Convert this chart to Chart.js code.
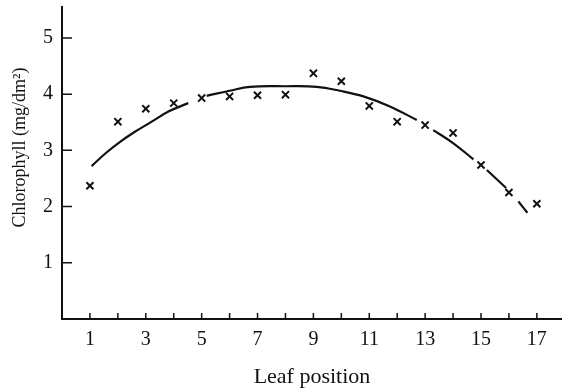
<!DOCTYPE html>
<html>
<head>
<meta charset="utf-8">
<script src="https://cdn.jsdelivr.net/npm/chart.js@4"></script>
<style>
  html, body { margin: 0; padding: 0; background: #fff; overflow: hidden; }
  #wrap { width: 562px; height: 391px; position: relative; }
  canvas { display: block; }
</style>
</head>
<body>
<div id="wrap"><canvas id="chlorophyll"></canvas></div>
<script>
// measured chlorophyll per leaf
const leafPositions = [1, 2, 3, 4, 5, 6, 7, 8, 9, 10, 11, 12, 13, 14, 15, 16, 17];
const chlorophyll = [2.37, 3.51, 3.74, 3.84, 3.93, 3.96, 3.98, 3.99, 4.37, 4.23, 3.79, 3.51, 3.45, 3.31, 2.74, 2.25, 2.05];

// fitted trend, drawn in pieces (null = break in the line)
const trendX = [1.06, 1.54, 2.02, 2.61, 3.21, 3.81, 4.52, 4.85, 5.18, 6.0, 6.73, 8.0, 9.12, 9.95, 10.79, 11.74, 12.70, 13.0, 13.29, 14.0, 14.73, 15.0, 15.21, 15.90, 16.1, 16.34, 16.66];
const trendY = [2.72, 2.94, 3.13, 3.33, 3.51, 3.69, 3.84, null, 3.97, 4.06, 4.13, 4.14, 4.13, 4.06, 3.96, 3.78, 3.54, null, 3.36, 3.13, 2.84, null, 2.65, 2.33, null, 2.09, 1.89];

const xLabelTicks = [1, 3, 5, 7, 9, 11, 13, 15, 17];
const yLabelTicks = [1, 2, 3, 4, 5];
const yTitle = 'Chlorophyll (mg/dm²)';

const ink = '#111';
const serif = "'Liberation Serif', 'Times New Roman', serif";

// small inward tick marks on both axes, plus the y axis title
const axisExtras = {
  id: 'axisExtras',
  afterDraw(chart) {
    const { ctx, scales: { x, y } } = chart;
    ctx.save();
    ctx.strokeStyle = ink;
    ctx.lineWidth = 1.5;
    ctx.beginPath();
    leafPositions.forEach(v => {
      const px = x.getPixelForValue(v);
      ctx.moveTo(px, y.bottom);
      ctx.lineTo(px, y.bottom - 6);
    });
    yLabelTicks.forEach(v => {
      const py = y.getPixelForValue(v);
      ctx.moveTo(x.left, py);
      ctx.lineTo(x.left + 10, py);
    });
    ctx.stroke();

    ctx.translate(20, y.getPixelForValue(3.05));
    ctx.rotate(-Math.PI / 2);
    ctx.fillStyle = ink;
    ctx.font = '18px ' + serif;
    ctx.textAlign = 'center';
    ctx.textBaseline = 'middle';
    ctx.fillText(yTitle, 0, 0);
    ctx.restore();
  }
};

new Chart(document.getElementById('chlorophyll'), {
  type: 'scatter',
  data: {
    datasets: [
      {
        label: 'Measured',
        data: leafPositions.map((x, i) => ({ x, y: chlorophyll[i] })),
        showLine: false,
        pointStyle: 'crossRot',
        pointRadius: 5,
        pointBorderWidth: 2,
        borderColor: ink,
        backgroundColor: ink
      },
      {
        label: 'Trend',
        data: trendX.map((x, i) => ({ x, y: trendY[i] })),
        showLine: true,
        spanGaps: false,
        tension: 0.4,
        pointRadius: 0,
        borderWidth: 2.2,
        borderColor: ink
      }
    ]
  },
  options: {
    responsive: true,
    maintainAspectRatio: false,
    animation: false,
    layout: { autoPadding: false, padding: { top: 7, right: 0, left: 0, bottom: 0 } },
    plugins: {
      legend: { display: false },
      tooltip: { enabled: false }
    },
    scales: {
      x: {
        type: 'linear',
        min: 0,
        max: 17.9,
        afterBuildTicks: scale => { scale.ticks = xLabelTicks.map(value => ({ value })); },
        afterFit: scale => {
          scale.height = 72;
          scale.paddingLeft = 0;
          scale.paddingRight = 0;
        },
        grid: { display: false, drawTicks: false },
        border: { display: true, color: ink, width: 2 },
        ticks: {
          autoSkip: false,
          maxRotation: 0,
          padding: 9,
          color: ink,
          font: { family: serif, size: 20 }
        },
        title: {
          display: true,
          text: 'Leaf position',
          color: ink,
          font: { family: serif, size: 22 },
          padding: { top: 0, bottom: 1 }
        }
      },
      y: {
        min: 0,
        max: 5.55,
        afterBuildTicks: scale => { scale.ticks = yLabelTicks.map(value => ({ value })); },
        afterFit: scale => {
          scale.width = 62;
          scale.paddingTop = 0;
          scale.paddingBottom = 0;
        },
        grid: { display: false, drawTicks: false },
        border: { display: true, color: ink, width: 2 },
        ticks: {
          autoSkip: false,
          padding: 9,
          color: ink,
          font: { family: serif, size: 20 }
        }
      }
    }
  },
  plugins: [axisExtras]
});
</script>
</body>
</html>
